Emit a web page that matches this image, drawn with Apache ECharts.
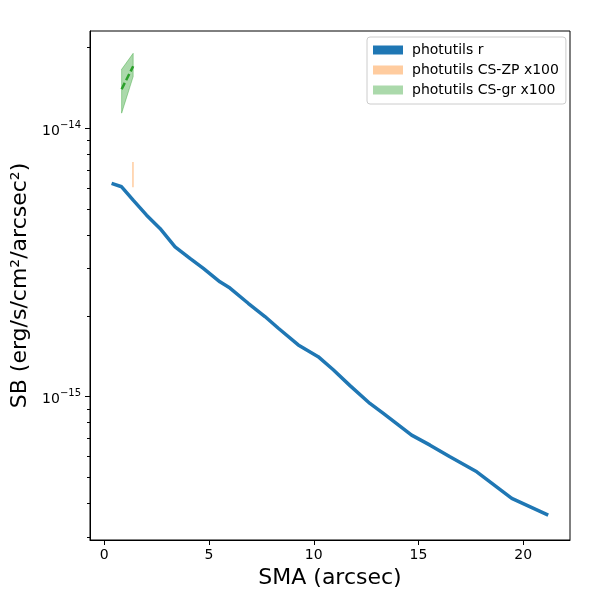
<!DOCTYPE html>
<html>
<head>
<meta charset="utf-8">
<script src="https://cdn.jsdelivr.net/npm/echarts@6/dist/echarts.min.js"></script>
<style>
html,body{margin:0;padding:0;background:#fff;}
#main{width:600px;height:600px;}
</style>
</head>
<body>
<div id="main"></div>
<script>
// photutils r profile (SMA in arcsec, SB in erg/s/cm2/arcsec2)
var smaR = [0.35,0.83,1.38,2.02,2.66,3.38,4.09,4.73,5.52,6.0,6.87,7.67,8.31,9.26,10.21,10.93,11.73,12.68,13.32,14.67,15.55,16.5,17.78,19.45,21.19];
var sbR = [6.24e-15,6.06e-15,5.40e-15,4.75e-15,4.24e-15,3.62e-15,3.28e-15,3.01e-15,2.68e-15,2.54e-15,2.23e-15,1.99e-15,1.80e-15,1.56e-15,1.41e-15,1.26e-15,1.10e-15,9.44e-16,8.67e-16,7.19e-16,6.60e-16,5.97e-16,5.25e-16,4.18e-16,3.62e-16];

// CS-ZP x100 band
var smaZP = [1.37];
var zpLow = [6.04e-15];
var zpHigh = [7.49e-15];

// CS-gr x100 band + middle
var smaGR = [0.83,1.38];
var grLow = [1.14e-14,1.56e-14];
var grHigh = [1.66e-14,1.905e-14];
var grMid = [1.40e-14,1.705e-14];

var xTicks = [0,5,10,15,20];
var yMajor = [-15,-14];
var yMinor = [];
for (var e = -16; e <= -14; e++) {
	for (var k = 2; k <= 9; k++) {
		var v = e + Math.log10(k);
		if (v > -15.534 && v < -13.637) yMinor.push(v);
	}
}

function lg(v){ return Math.log10(v); }

var rData = [];
for (var i=0;i<smaR.length;i++) rData.push([smaR[i], lg(sbR[i])]);
var zpData = [];
for (var i=0;i<smaZP.length;i++) zpData.push([smaZP[i], lg(zpLow[i]), lg(zpHigh[i])]);
var grMidData = [];
for (var i=0;i<smaGR.length;i++) grMidData.push([smaGR[i], lg(grMid[i])]);
var grBand = [];
for (var i=0;i<smaGR.length;i++) grBand.push([smaGR[i], lg(grLow[i]), lg(grHigh[i])]);

var font = 'DejaVu Sans';
var myChart = echarts.init(document.getElementById('main'));
var option = {
	animation: false,
	textStyle: {fontFamily: font},
	grid: {left: 90, right: 30, top: 31, bottom: 60, show: true, borderColor: '#000', borderWidth: 1, backgroundColor: 'transparent'},
	legend: {
		orient: 'vertical',
		left: 367, top: 37,
		padding: [6, 7, 7, 6],
		itemWidth: 30, itemHeight: 9, itemGap: 6,
		borderColor: '#cccccc', borderWidth: 1, borderRadius: 3,
		backgroundColor: 'rgba(255,255,255,0.8)',
		textStyle: {fontSize: 14, color: '#000', fontFamily: font, padding: [0,0,0,4]},
		data: [
			{name: 'photutils r', icon: 'rect', itemStyle: {color: '#1f77b4', borderWidth: 0}},
			{name: 'photutils CS-ZP x100', icon: 'rect', itemStyle: {color: 'rgba(255,127,14,0.4)', borderWidth: 0}},
			{name: 'photutils CS-gr x100', icon: 'rect', itemStyle: {color: 'rgba(44,160,44,0.4)', borderWidth: 0}}
		]
	},
	xAxis: {
		type: 'value', min: -0.68, max: 22.23,
		name: 'SMA (arcsec)', nameLocation: 'middle', nameGap: 26,
		nameTextStyle: {fontSize: 22, color: '#000', fontFamily: font},
		axisLine: {onZero: false, lineStyle: {color: '#000', width: 1}},
		axisTick: {length: 5, lineStyle: {color: '#000'}, customValues: xTicks},
		axisLabel: {fontSize: 14, color: '#000', margin: 8, customValues: xTicks},
		splitLine: {show: false}
	},
	yAxis: [{
		type: 'value', min: -15.534, max: -13.637,
		name: 'SB (erg/s/cm\u00b2/arcsec\u00b2)', nameLocation: 'middle', nameGap: 58,
		nameTextStyle: {fontSize: 22, color: '#000', fontFamily: font},
		axisLine: {onZero: false, lineStyle: {color: '#000', width: 1}},
		axisTick: {length: 5, lineStyle: {color: '#000'}, customValues: yMajor},
		axisLabel: {
			margin: 9, customValues: yMajor,
			formatter: function(v){ return '{b|10}{s|\u2212' + Math.round(Math.abs(v)) + '}'; },
			rich: {
				b: {fontSize: 14, color: '#000', fontFamily: font, padding: [6,0,0,0]},
				s: {fontSize: 10, color: '#000', fontFamily: font, padding: [0,0,6,0]}
			}
		},
		splitLine: {show: false}
	}, {
		type: 'value', min: -15.534, max: -13.637, position: 'left',
		axisLine: {show: false, onZero: false},
		axisTick: {length: 3, lineStyle: {color: '#000'}, customValues: yMinor},
		axisLabel: {show: false},
		splitLine: {show: false}
	}],
	series: [
		{
			name: 'photutils CS-gr x100', type: 'custom', z: 2,
			renderItem: function(params, api){
				if (params.dataIndex > 0) return;
				var pts = [];
				for (var i=0;i<grBand.length;i++) pts.push(api.coord([grBand[i][0], grBand[i][2]]));
				for (var i=grBand.length-1;i>=0;i--) pts.push(api.coord([grBand[i][0], grBand[i][1]]));
				return {type: 'polygon', shape: {points: pts},
					style: {fill: 'rgba(44,160,44,0.4)', stroke: 'rgba(44,160,44,0.4)', lineWidth: 1}};
			},
			itemStyle: {color: 'rgba(44,160,44,0.4)'},
			data: grBand
		},
		{
			type: 'line', data: grMidData, symbol: 'none', z: 3,
			lineStyle: {color: '#2ca02c', width: 2.5, type: [7,3]}
		},
		{
			name: 'photutils CS-ZP x100', type: 'custom', z: 2,
			renderItem: function(params, api){
				var a = api.coord([api.value(0), api.value(1)]);
				var b = api.coord([api.value(0), api.value(2)]);
				return {type: 'line', shape: {x1: a[0], y1: a[1], x2: b[0], y2: b[1]},
					style: {stroke: 'rgba(255,127,14,0.4)', lineWidth: 1.5}};
			},
			itemStyle: {color: 'rgba(255,127,14,0.4)'},
			data: zpData
		},
		{
			name: 'photutils r', type: 'line', data: rData, symbol: 'none', z: 4,
			lineStyle: {color: '#1f77b4', width: 3.5},
			itemStyle: {color: '#1f77b4'}
		}
	]
};
myChart.setOption(option);
</script>
</body>
</html>
